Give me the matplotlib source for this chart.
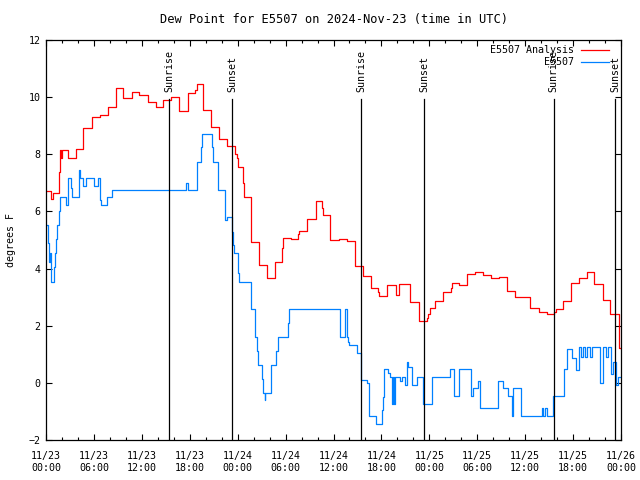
# Dew point time series for station E5507, gnuplot look-alike.
import matplotlib
matplotlib.use("Agg")
import matplotlib.pyplot as plt
import matplotlib.dates as mdates
import numpy as np

start = np.datetime64("2024-11-23T00:00")
end = np.datetime64("2024-11-26T00:00")

# hours after start, value (deg F), step-post
analysis_hours = [0.0, 0.6, 0.9, 1.67, 1.8, 1.9, 2.05, 2.72, 3.76, 4.67, 5.72, 6.76, 7.73,
                  8.73, 9.6, 10.73, 11.68, 12.73, 13.77, 14.69, 15.61, 16.69, 17.74, 18.66,
                  18.87, 19.62, 20.66, 21.7, 22.7, 23.63, 23.88, 24.08, 24.71, 24.83, 25.63,
                  26.71, 27.71, 28.71, 29.59, 29.71, 30.68, 31.59, 31.72, 32.72, 33.77, 34.6,
                  34.72, 35.56, 36.69, 37.65, 38.73, 39.66, 39.73, 40.66, 41.61, 41.74, 42.74,
                  43.79, 44.2, 45.62, 46.67, 46.75, 47.71, 47.83, 48.08, 48.71, 49.67, 50.68,
                  50.8, 51.72, 52.68, 53.72, 54.68, 55.72, 56.72, 57.69, 58.73, 60.61, 61.73,
                  62.7, 63.61, 63.82, 64.7, 65.74, 66.74, 67.71, 68.66, 69.71, 70.66, 71.75, 72.0]
analysis_vals = [6.71, 6.43, 6.63, 7.39, 8.15, 7.86, 8.15, 7.86, 8.17, 8.91, 9.32, 9.37, 9.67,
                 10.31, 9.96, 10.17, 10.07, 9.84, 9.67, 9.9, 9.99, 9.53, 10.16, 10.25,
                 10.46, 9.55, 8.94, 8.53, 8.29, 8.0, 7.86, 7.54, 6.98, 6.52, 4.94,
                 4.13, 3.66, 4.22, 4.71, 5.06, 5.03, 5.21, 5.31, 5.72, 6.36, 6.13,
                 5.88, 5.0, 5.02, 4.98, 4.09, 3.95, 3.74, 3.31, 3.19, 3.04, 3.43,
                 3.08, 3.45, 2.84, 2.49, 2.17, 2.26, 2.4, 2.63, 2.86, 3.17, 3.31,
                 3.48, 3.43, 3.81, 3.87, 3.78, 3.66, 3.69, 3.21, 3.0, 2.61, 2.47,
                 2.4, 2.49, 2.57, 2.87, 3.48, 3.66, 3.89, 3.46, 2.89, 2.4, 1.21, 1.21]

obs_hours = [0.04, 0.29, 0.38, 0.5, 0.59, 0.67, 1.04, 1.17, 1.21, 1.34, 1.67, 1.75, 2.54,
             2.72, 2.8, 3.13, 3.22, 4.13, 4.22, 4.3, 4.6, 5.01, 6.05, 6.47, 6.76, 6.89,
             7.68, 8.3, 17.49, 17.74, 18.87, 19.41, 19.5, 20.75, 20.95, 21.58, 22.41, 22.7,
             23.33, 23.45, 23.58, 24.08, 24.2, 25.63, 26.13, 26.46, 26.59, 27.01, 27.13,
             27.42, 27.46, 28.21, 28.84, 29.01, 30.27, 30.39, 36.85, 37.48, 37.69, 37.85,
             37.98, 38.98, 39.48, 40.23, 40.41, 41.28, 42.04, 42.16, 42.36, 42.86, 43.08,
             43.33, 43.45, 43.58, 43.7, 44.33, 44.54, 44.96, 45.17, 45.34, 45.8, 46.42,
             47.17, 48.37, 50.59, 51.13, 51.75, 53.18, 53.43, 54.13, 54.35, 54.38, 56.56,
             57.26, 57.89, 58.39, 58.51, 59.44, 62.07, 62.24, 62.49, 62.74, 63.52, 64.86,
             65.2, 65.9, 66.37, 66.74, 66.99, 67.24, 67.49, 67.74, 68.12, 68.37, 69.37,
             69.79, 70.12, 70.37, 70.81, 71.0, 71.43, 71.63, 72.0]
obs_vals = [5.53, 4.88, 4.24, 4.53, 4.06, 3.54, 4.06, 4.53, 5.03, 5.53, 6.03, 6.49, 6.23,
            6.73, 7.16, 6.81, 6.49, 7.45, 7.25, 7.16, 6.89, 7.16, 6.89, 7.16, 6.4, 6.23,
            6.49, 6.74, 6.98, 6.75, 7.74, 8.24, 8.7, 8.24, 7.74, 6.75, 5.7, 5.8,
            5.29, 4.82, 4.53, 3.84, 3.54, 2.57, 1.59, 1.11, 0.63, 0.13, -0.36,
            -0.6, -0.36, 0.63, 1.11, 1.59, 2.08, 2.57, 1.59, 2.57, 1.59, 1.44,
            1.31, 1.03, 0.1, -0.01, -1.16, -1.44, -0.95, -0.49, 0.47, 0.34, 0.22,
            -0.74, 0.2, -0.74, 0.2, 0.06, 0.2, -0.08, 0.74, 0.57, -0.08, 0.2,
            -0.74, 0.2, 0.47, -0.46, 0.47, -0.46, -0.19, 0.06, -0.19, -0.89, 0.08,
            -0.19, -0.46, -1.16, -0.19, -1.16, -0.89, -1.16, -0.89, -1.16, -0.46, 0.47,
            1.17, 0.86, 0.45, 1.24, 0.92, 1.24, 0.92, 1.24, 0.92, 1.24, -0.01,
            1.24, 0.92, 1.24, 0.31, 0.74, -0.08, 0.2, 0.2]

sun_hours = [15.44, 23.35, 39.49, 47.37, 63.57, 71.29]
sun_labels = ["Sunrise", "Sunset", "Sunrise", "Sunset", "Sunrise", "Sunset"]


def to_time(hours):
    return start + (np.array(hours) * 3600).astype("timedelta64[s]")


plt.rcParams["font.family"] = "DejaVu Sans Mono"
plt.rcParams["font.size"] = 7.2

fig = plt.figure(figsize=(6.4, 4.8), dpi=100)
ax = fig.add_axes([46 / 640, 40 / 480, 575 / 640, 400 / 480])

ax.plot(to_time(analysis_hours), analysis_vals, drawstyle="steps-post", color="#ff0000", lw=0.9)
ax.plot(to_time(obs_hours), obs_vals, drawstyle="steps-post", color="#0080ff", lw=0.9)

for h, lab in zip(sun_hours, sun_labels):
    t = to_time([h])[0]
    ax.axvline(t, ymin=0, ymax=0.8525, color="black", lw=0.9)
    ax.text(t, 0.87, lab, rotation=90, ha="center", va="bottom",
            transform=ax.get_xaxis_transform())

ax.set_xlim(start, end)
ax.set_ylim(-2, 12)
ax.set_yticks(range(-2, 13, 2))
ax.xaxis.set_major_locator(mdates.HourLocator(byhour=range(0, 24, 6)))
ax.xaxis.set_minor_locator(mdates.HourLocator(byhour=range(0, 24, 2)))
ax.xaxis.set_major_formatter(mdates.DateFormatter("%m/%d\n%H:%M"))
ax.tick_params(which="both", direction="in", top=True, right=True, width=0.8)
ax.tick_params(which="major", length=4.5)
ax.tick_params(which="minor", length=2.2)
ax.tick_params(axis="y", pad=4)
ax.tick_params(axis="x", pad=8)
for s in ax.spines.values():
    s.set_linewidth(0.9)

ax.set_title("Dew Point for E5507 on 2024-Nov-23 (time in UTC)", pad=12)
ax.set_ylabel("degrees F")
ax.yaxis.set_label_coords(-0.053, 0.5)

# legend gnuplot style: text right-aligned, sample line on the right
ax.text(0.918, 0.975, "E5507 Analysis", ha="right", va="center", transform=ax.transAxes)
ax.plot([0.930, 0.979], [0.975, 0.975], color="#ff0000", lw=0.9, transform=ax.transAxes)
ax.text(0.918, 0.944, "E5507", ha="right", va="center", transform=ax.transAxes)
ax.plot([0.930, 0.979], [0.944, 0.944], color="#0080ff", lw=0.9, transform=ax.transAxes)

fig.savefig("out.png", dpi=100)
